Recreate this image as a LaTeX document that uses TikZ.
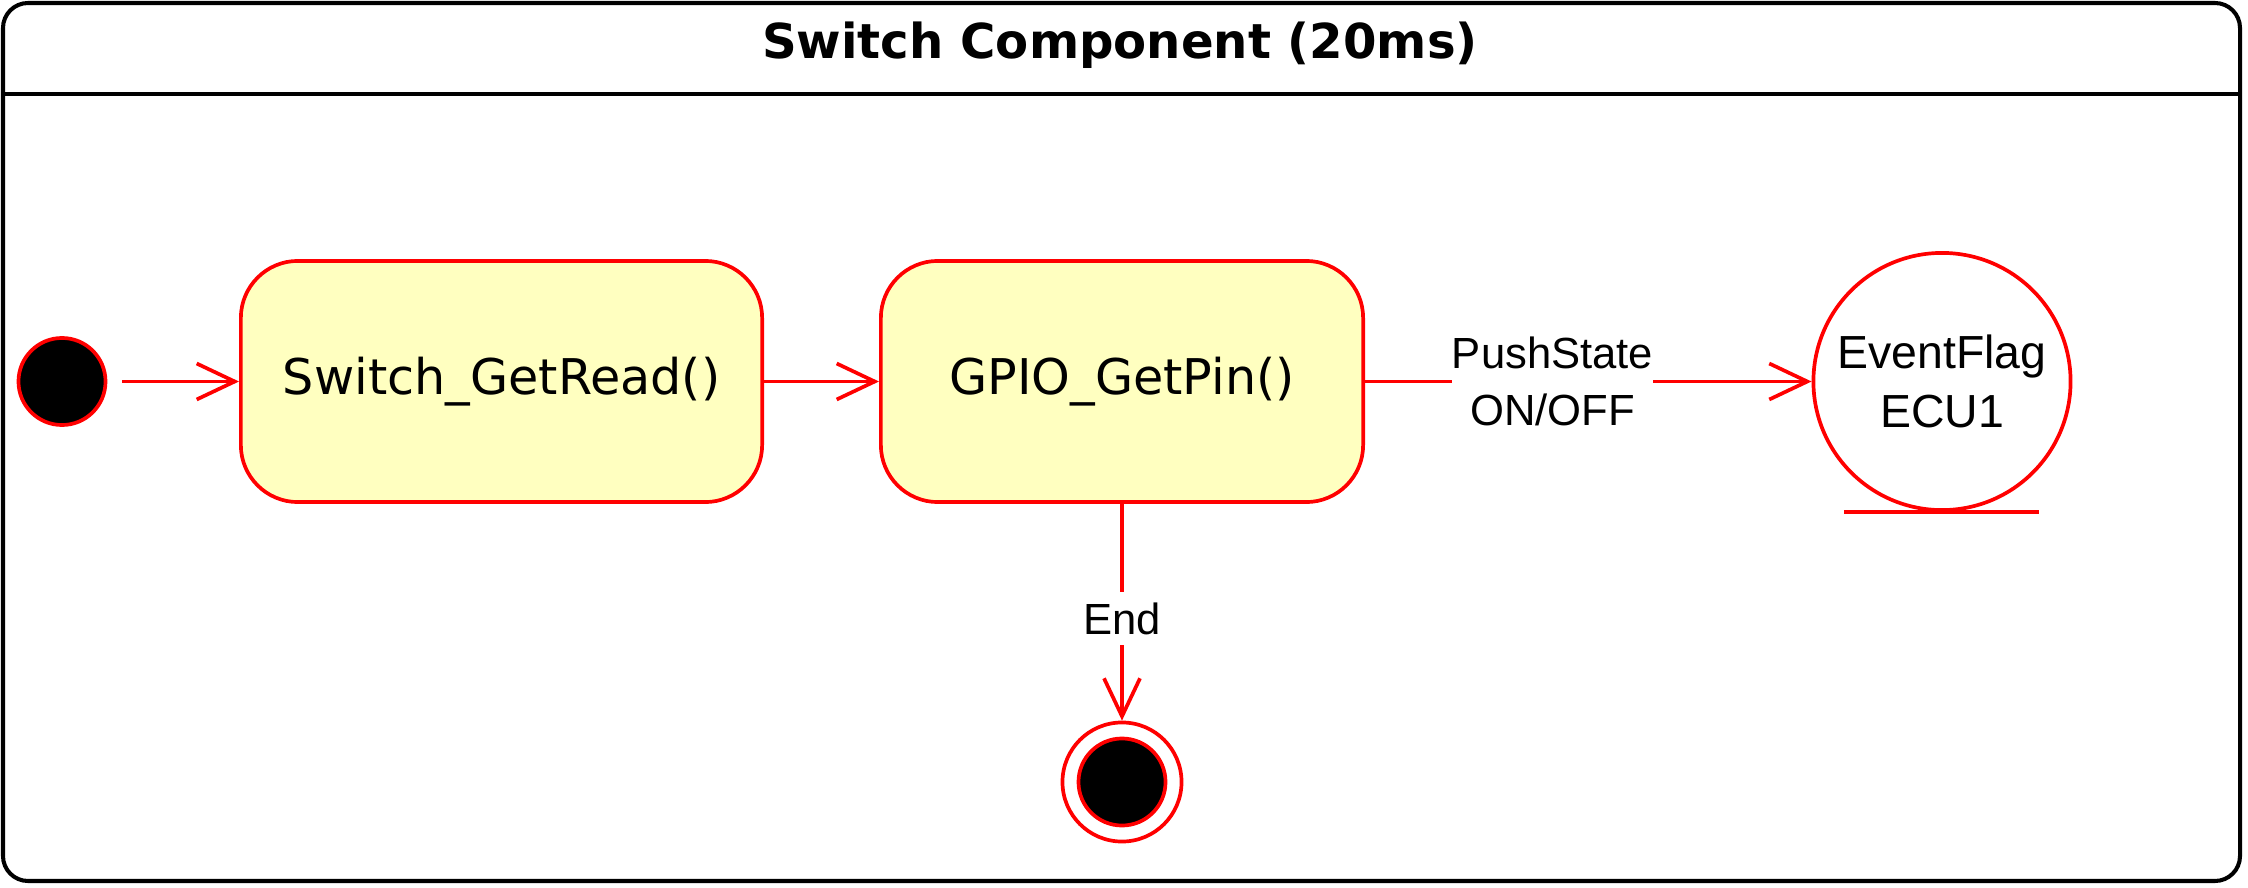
\documentclass[tikz,border=0pt]{standalone}
\usepackage{fontspec}
\setmainfont{Liberation Sans}
\newfontfamily\dejavu{DejaVu Sans}
\usetikzlibrary{arrows.meta}
\definecolor{umlred}{HTML}{FF0000}
\definecolor{umlyellow}{HTML}{FFFFC0}
\tikzset{
  frame/.style={draw=black, line width=1.15pt, rounded corners=0.25cm},
  statebox/.style={draw=umlred, fill=umlyellow, line width=1.05pt, rounded corners=0.57cm,
    minimum height=2.41cm, inner sep=0pt, font=\dejavu\fontsize{14}{17}\selectfont},
  dot/.style={circle, draw=umlred, fill=black, line width=1.05pt, minimum size=0.87cm, inner sep=0pt},
  ring/.style={circle, draw=umlred, line width=1.05pt, minimum size=1.19cm, inner sep=0pt},
  flagcirc/.style={circle, draw=umlred, fill=white, line width=1.05pt, minimum size=2.57cm, inner sep=0pt,
    align=center, font=\fontsize{13.2}{17}\selectfont},
  trans/.style={draw=umlred, line width=1.05pt, -{Straight Barb[length=0.38cm, width=0.36cm, line width=1.05pt]}},
  lbl/.style={fill=white, inner xsep=0pt, inner ysep=3pt, align=center, text=black,
    font=\fontsize{12.4}{16.2}\selectfont}
}
\begin{document}
\begin{tikzpicture}[x=0.01cm, y=-0.01cm]
\useasboundingbox (0,0) rectangle (2248,888);
% frame
\draw[frame] (3,3) rectangle (2240,881);
\draw[black, line width=1.15pt] (3,94) -- (2240,94);
\node[font=\dejavu\bfseries\fontsize{13.7}{16}\selectfont] (title) at (1120,45) {Switch Component (20ms)};
% nodes
\node[dot] (init) at (62,381.5) {};
\node[statebox, minimum width=5.21cm] (b1) at (501.5,381.5) {Switch\_GetRead()};
\node[statebox, minimum width=4.82cm] (b2) at (1122,381.5) {GPIO\_GetPin()};
\node[flagcirc] (flag) at (1942,381.5) {EventFlag\\ECU1};
\coordinate (fl) at (1844,512);
\coordinate (fr) at (2039,512);
\draw[umlred, line width=1.05pt] (fl) -- (fr);
\node[ring] (fin) at (1122,782) {};
\node[dot] (finin) at (1122,782) {};
% transitions
\draw[trans, shorten <=0.15cm] (init) -- (b1);
\draw[trans] (b1) -- (b2);
\draw[trans] (b2) -- node[lbl, pos=0.42] (lab1) {PushState\\ON/OFF} (flag);
\draw[trans] (b2) -- node[lbl, pos=0.53] (lab2) {End} (fin);
\end{tikzpicture}
\end{document}
